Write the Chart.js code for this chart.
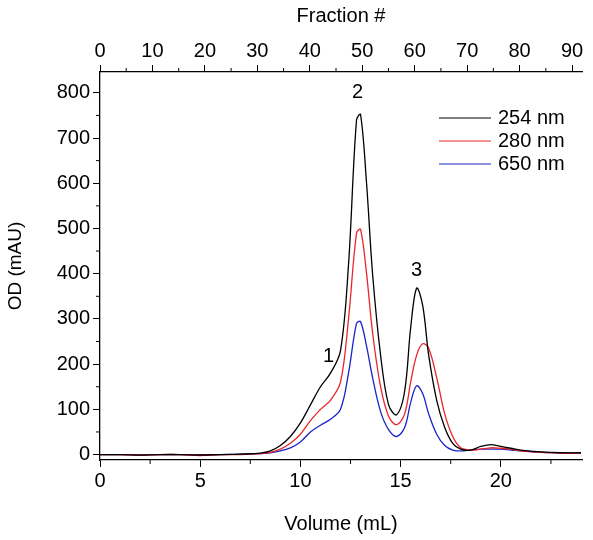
<!DOCTYPE html>
<html lang="en">
<head>
<meta charset="UTF-8">
<title>SEC chromatogram</title>
<script src="https://cdn.jsdelivr.net/npm/chart.js"></script>
<style>
  body { margin: 0; background: #fff; }
</style>
</head>
<body>
<canvas id="chart" width="593" height="540"></canvas>
<script>
// volume (mL) sample points
const volume = [0, 1, 2, 3, 4, 5, 6, 7, 8, 8.5, 9, 9.5, 10, 10.5, 11, 11.5, 12, 12.4, 12.8, 13.0, 13.3, 13.6, 14, 14.4, 14.8, 15.2, 15.5, 15.8, 16.1, 16.4, 16.8, 17.2, 17.6, 18, 18.5, 19, 19.5, 20, 20.5, 21, 22, 23, 24];
const od254 = [0, 0, -1, 0, 0, -1, 0, 1, 3, 8, 20, 40, 70, 110, 150, 180, 230, 420, 740, 752, 600, 400, 220, 110, 88, 140, 280, 368, 330, 220, 120, 60, 25, 12, 10, 18, 22, 18, 14, 10, 6, 4, 4];
const od280 = [0, 0, -1, 0, 0, -2, 0, 0, 2, 5, 12, 25, 45, 75, 100, 120, 160, 300, 490, 498, 400, 270, 150, 85, 66, 90, 160, 220, 245, 235, 170, 90, 40, 15, 10, 12, 15, 14, 12, 8, 5, 3, 3];
const od650 = [0, 0, 0, 0, 0, 0, 0, 1, 2, 4, 8, 15, 28, 50, 65, 78, 100, 180, 290, 294, 240, 170, 95, 55, 40, 60, 115, 152, 135, 90, 45, 20, 10, 8, 10, 12, 12, 12, 10, 8, 5, 4, 3];
const seriesNames = ['254 nm', '280 nm', '650 nm'];
const seriesColors = ['#000000', '#e8262b', '#1a25c8'];
const volumeTicks = [0, 5, 10, 15, 20];
const fractionTicks = [0, 10, 20, 30, 40, 50, 60, 70, 80, 90];
const odTicks = [0, 100, 200, 300, 400, 500, 600, 700, 800];
const peakLabels = ['1', '2', '3'];
const peakX = [11.4, 12.85, 15.8];
const peakY = [195, 778, 385];
const mlPerFraction = 0.2617;

const FONT = '"Liberation Sans", Arial, sans-serif';
const tickFont = { size: 20, family: FONT };

const extras = {
  id: 'extras',
  afterDraw(chart) {
    const ctx = chart.ctx, a = chart.chartArea;
    const x = chart.scales.x, y = chart.scales.y, x2 = chart.scales.x2;
    ctx.save();
    ctx.strokeStyle = '#000';
    ctx.lineWidth = 1;
    // minor ticks
    ctx.beginPath();
    for (let v = 2.5; v < 24; v += 5) {
      const px = x.getPixelForValue(v);
      ctx.moveTo(px, a.bottom); ctx.lineTo(px, a.bottom + 4);
    }
    for (let v = 5; v < 92; v += 10) {
      const px = x2.getPixelForValue(v);
      ctx.moveTo(px, a.top); ctx.lineTo(px, a.top - 4);
    }
    for (let v = 50; v < 850; v += 100) {
      const py = y.getPixelForValue(v);
      ctx.moveTo(a.left, py); ctx.lineTo(a.left - 4, py);
    }
    ctx.stroke();
    // peak labels
    ctx.fillStyle = '#000';
    ctx.font = '20px ' + FONT;
    ctx.textAlign = 'center';
    ctx.textBaseline = 'bottom';
    peakLabels.forEach((t, i) => {
      ctx.fillText(t, x.getPixelForValue(peakX[i]), y.getPixelForValue(peakY[i]));
    });
    // legend
    ctx.textAlign = 'left';
    ctx.textBaseline = 'middle';
    seriesNames.forEach((n, i) => {
      const ly = 118 + i * 23;
      ctx.strokeStyle = seriesColors[i];
      ctx.beginPath(); ctx.moveTo(439, ly); ctx.lineTo(491, ly); ctx.stroke();
      ctx.fillText(n, 498, ly);
    });
    ctx.restore();
  }
};

new Chart(document.getElementById('chart'), {
  type: 'line',
  data: {
    datasets: [od254, od280, od650].map((s, i) => ({
      label: seriesNames[i],
      data: volume.map((v, j) => ({ x: v, y: s[j] })),
      borderColor: seriesColors[i],
      borderWidth: 1.3,
      pointRadius: 0,
      tension: 0.35,
      xAxisID: 'x', yAxisID: 'y'
    }))
  },
  options: {
    responsive: false,
    animation: false,
    layout: { padding: { right: 11 } },
    plugins: { legend: { display: false }, tooltip: { enabled: false } },
    scales: {
      x: {
        type: 'linear', position: 'bottom', min: 0, max: 24.05,
        afterBuildTicks: s => { s.ticks = volumeTicks.map(v => ({ value: v })); },
        afterFit: s => { s.height = 80; },
        ticks: { color: '#000', font: tickFont, maxRotation: 0, padding: 2 },
        grid: { drawOnChartArea: false, tickLength: 7, color: '#000' },
        border: { color: '#000', width: 1.3 },
        title: { display: true, text: 'Volume (mL)', color: '#000', font: tickFont, padding: { top: 8 } }
      },
      x2: {
        type: 'linear', position: 'top', min: 0, max: 24.05 / mlPerFraction,
        afterBuildTicks: s => { s.ticks = fractionTicks.map(v => ({ value: v })); },
        afterFit: s => { s.height = 72; },
        ticks: { color: '#000', font: tickFont, maxRotation: 0, padding: 2 },
        grid: { drawOnChartArea: false, tickLength: 7, color: '#000' },
        border: { color: '#000', width: 1.3 },
        title: { display: true, text: 'Fraction #', color: '#000', font: tickFont, padding: { bottom: 0, top: 4 } }
      },
      y: {
        min: -12, max: 846,
        afterBuildTicks: s => { s.ticks = odTicks.map(v => ({ value: v })); },
        afterFit: s => { s.width = 100; },
        ticks: { color: '#000', font: tickFont, padding: 3 },
        grid: { drawOnChartArea: false, tickLength: 7, color: '#000' },
        border: { color: '#000', width: 1.3 },
        title: { display: true, text: 'OD (mAU)', color: '#000', font: { size: 19, family: FONT } }
      }
    }
  },
  plugins: [extras]
});
</script>
</body>
</html>
